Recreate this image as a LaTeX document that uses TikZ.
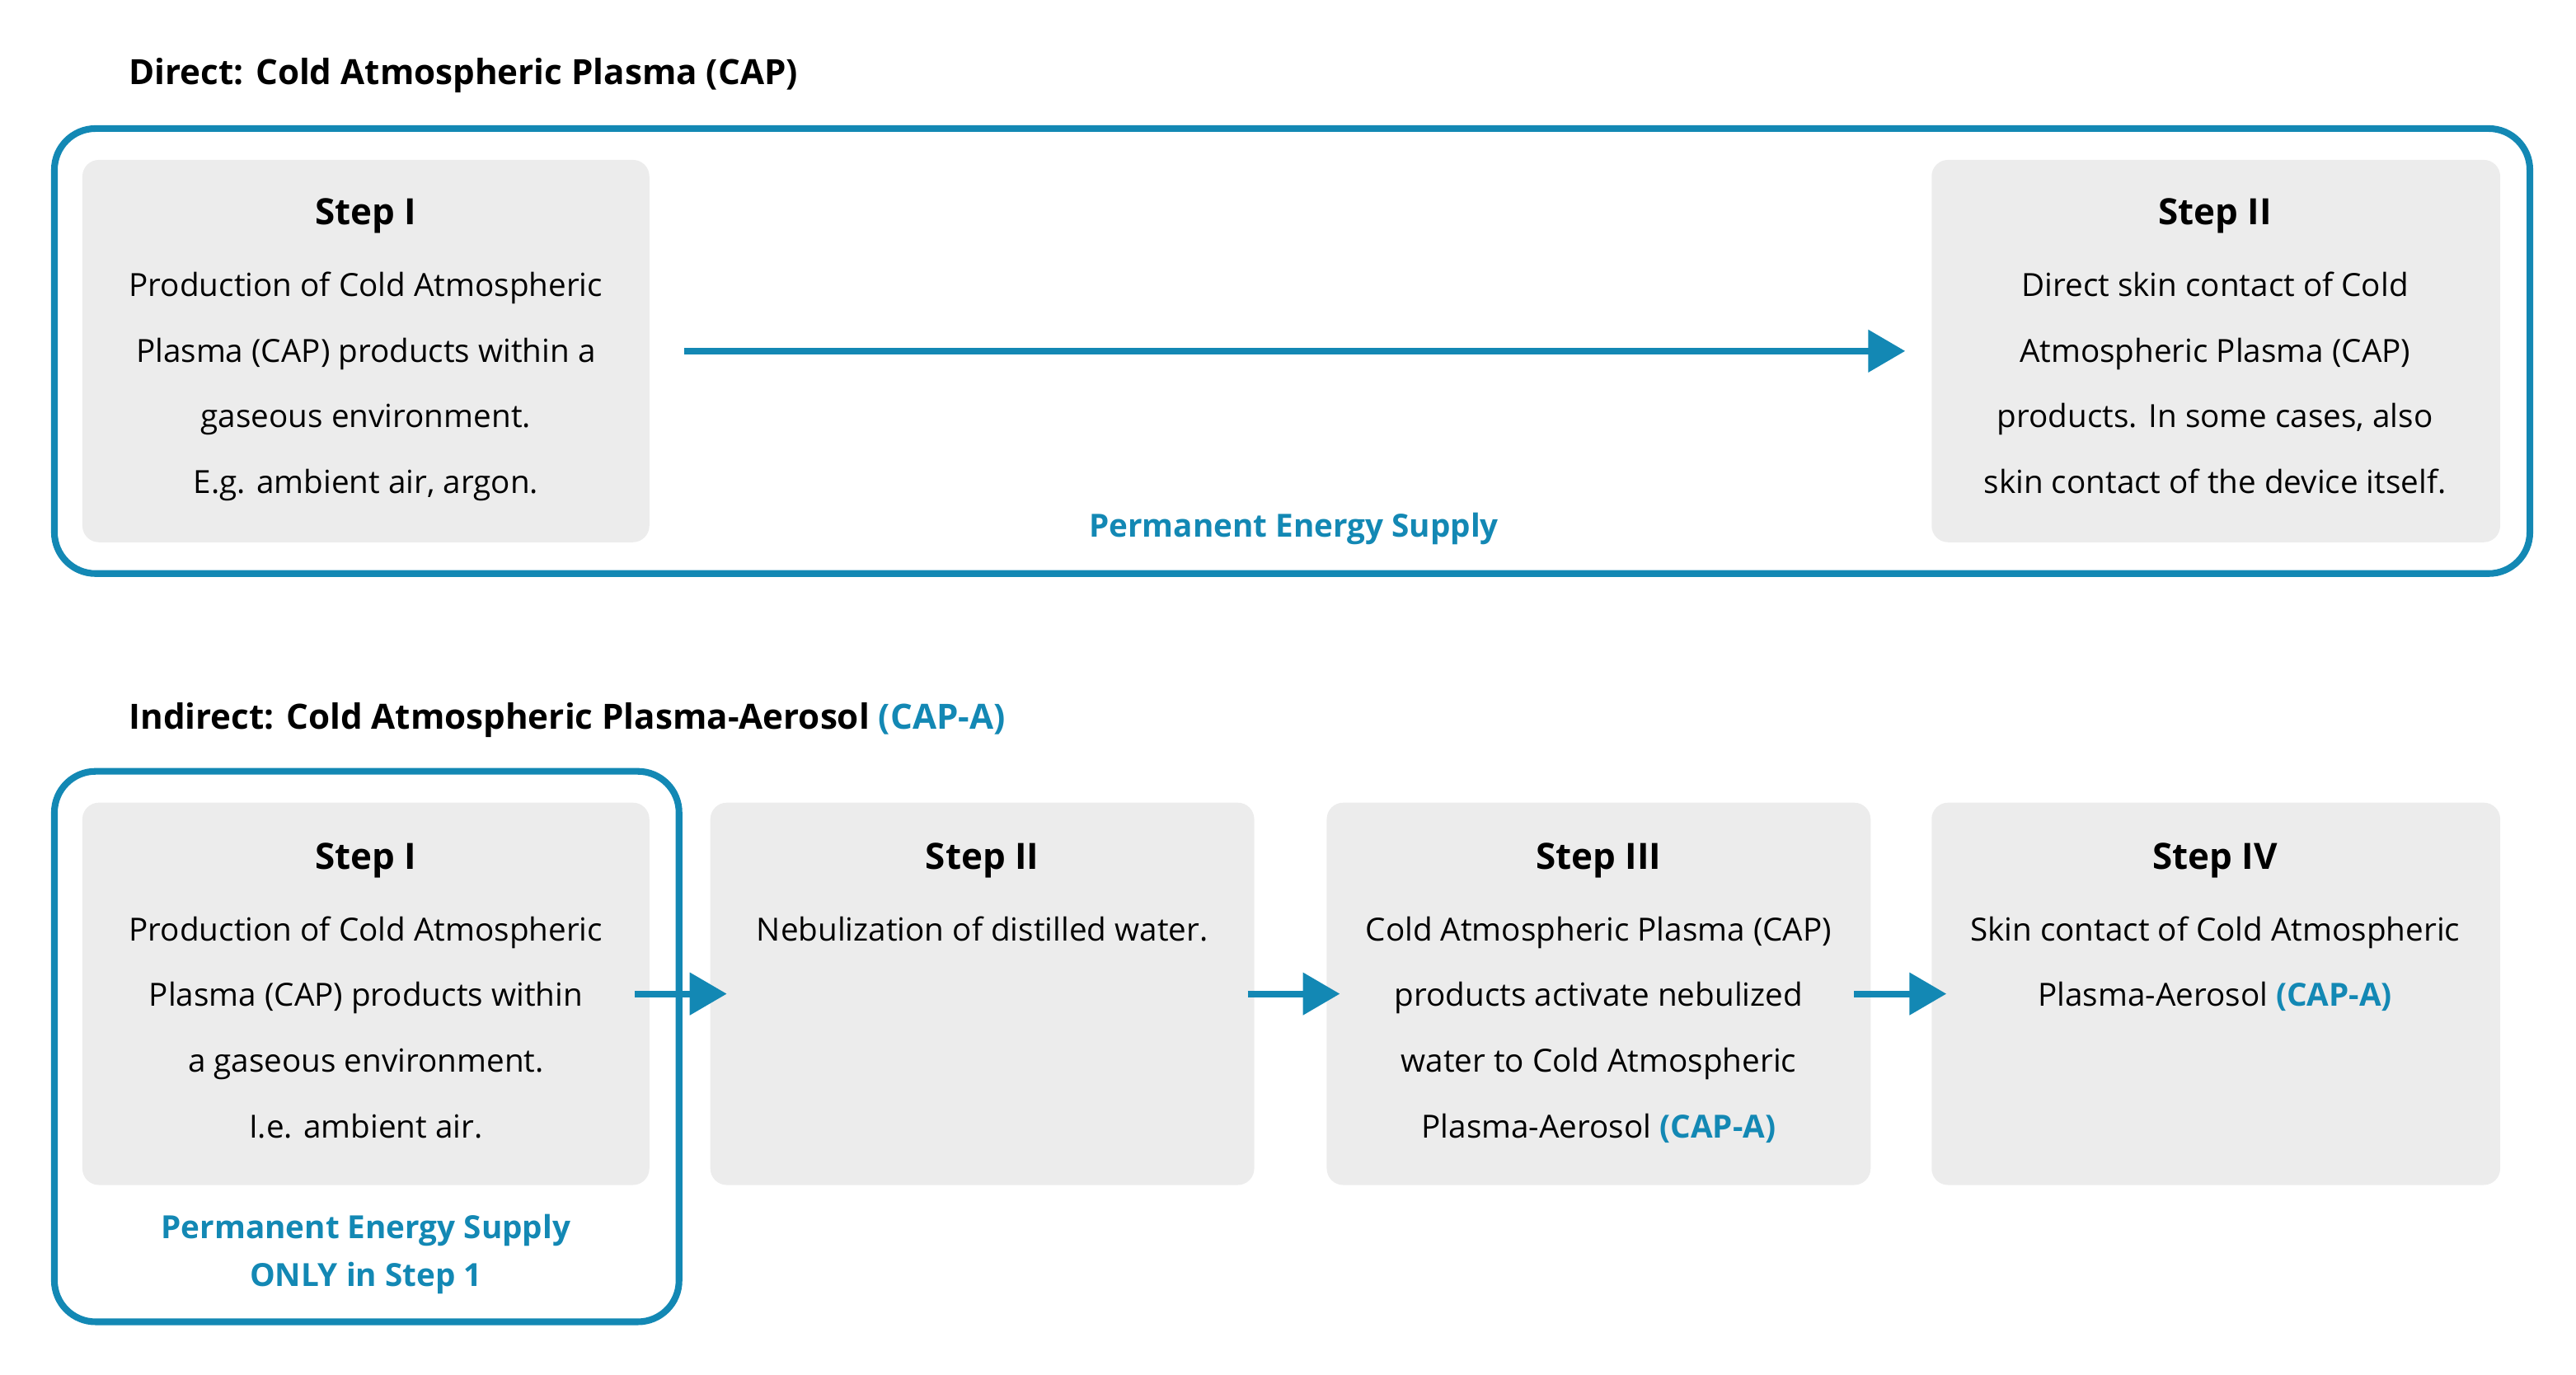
\documentclass[tikz,border=0pt]{standalone}
\usepackage{fontspec}
\setmainfont{Open Sans}
\usetikzlibrary{arrows.meta,positioning}
\definecolor{capblue}{HTML}{1388B4}
\definecolor{stepgray}{HTML}{ECECEC}
\tikzset{
  frame/.style={draw=capblue, line width=2.3pt, rounded corners=0.5cm},
  stepbox/.style={fill=stepgray, rounded corners=0.2cm},
  head/.style={font=\fontsize{12.5}{15}\selectfont\bfseries},
  body/.style={align=center, anchor=north, font=\fontsize{11}{22.7}\selectfont},
  title/.style={anchor=west, font=\fontsize{12}{15}\selectfont\bfseries},
  energy/.style={text=capblue, align=center, font=\fontsize{11}{16.5}\selectfont\bfseries},
  flow/.style={draw=capblue, line width=2.3pt, -{Triangle[length=0.45cm,width=0.5cm]}},
}
\newcommand{\blu}[1]{\textcolor{capblue}{\bfseries #1}}
\begin{document}
\begin{tikzpicture}[x=0.02cm, y=-0.02cm]
\useasboundingbox (0,0) rectangle (1563,834);
% Direct
\node[title] (t1) at (72,46) {Direct: Cold Atmospheric Plasma (CAP)};
\draw[frame] (33,78) rectangle (1535,348);
\path[stepbox] (50,97) rectangle (394,329);
\path[stepbox] (1172,97) rectangle (1517,329);
\node[head] (dh1) at (222,131) {Step I};
\node[body, below=0.22cm of dh1] (db1) {Production of Cold Atmospheric\\Plasma (CAP) products within a\\gaseous environment.\\E.g. ambient air, argon.};
\node[head] (dh2) at (1344,131) {Step II};
\node[body, below=0.22cm of dh2] (db2) {Direct skin contact of Cold\\Atmospheric Plasma (CAP)\\products. In some cases, also\\skin contact of the device itself.};
\coordinate (da) at (415,213);
\coordinate (db) at (1156,213);
\draw[flow] (da) -- (db);
\node[energy] (de) at (785,321) {Permanent Energy Supply};
% Indirect
\node[title] (t2) at (72,437) {Indirect: Cold Atmospheric Plasma-Aerosol \textcolor{capblue}{(CAP-A)}};
\draw[frame] (33,468) rectangle (412,802);
\path[stepbox] (50,487) rectangle (394,719);
\path[stepbox] (431,487) rectangle (761,719);
\path[stepbox] (805,487) rectangle (1135,719);
\path[stepbox] (1172,487) rectangle (1517,719);
\node[head] (ih1) at (222,522) {Step I};
\node[body, below=0.22cm of ih1] (ib1) {Production of Cold Atmospheric\\Plasma (CAP) products within\\a gaseous environment.\\I.e. ambient air.};
\node[head] (ih2) at (596,522) {Step II};
\node[body, below=0.22cm of ih2] (ib2) {Nebulization of distilled water.};
\node[head] (ih3) at (970,522) {Step III};
\node[body, below=0.22cm of ih3] (ib3) {Cold Atmospheric Plasma (CAP)\\products activate nebulized\\water to Cold Atmospheric\\Plasma-Aerosol \blu{(CAP-A)}};
\node[head] (ih4) at (1344,522) {Step IV};
\node[body, below=0.22cm of ih4] (ib4) {Skin contact of Cold Atmospheric\\Plasma-Aerosol \blu{(CAP-A)}};
\foreach \a/\b [count=\i] in {385/441, 757/813, 1125/1181} {
  \coordinate (ia\i) at (\a,603);
  \coordinate (ib\i) at (\b,603);
  \draw[flow] (ia\i) -- (ib\i);
}
\node[energy] (ie) at (222,761) {Permanent Energy Supply\\ONLY in Step 1};
\end{tikzpicture}
\end{document}
